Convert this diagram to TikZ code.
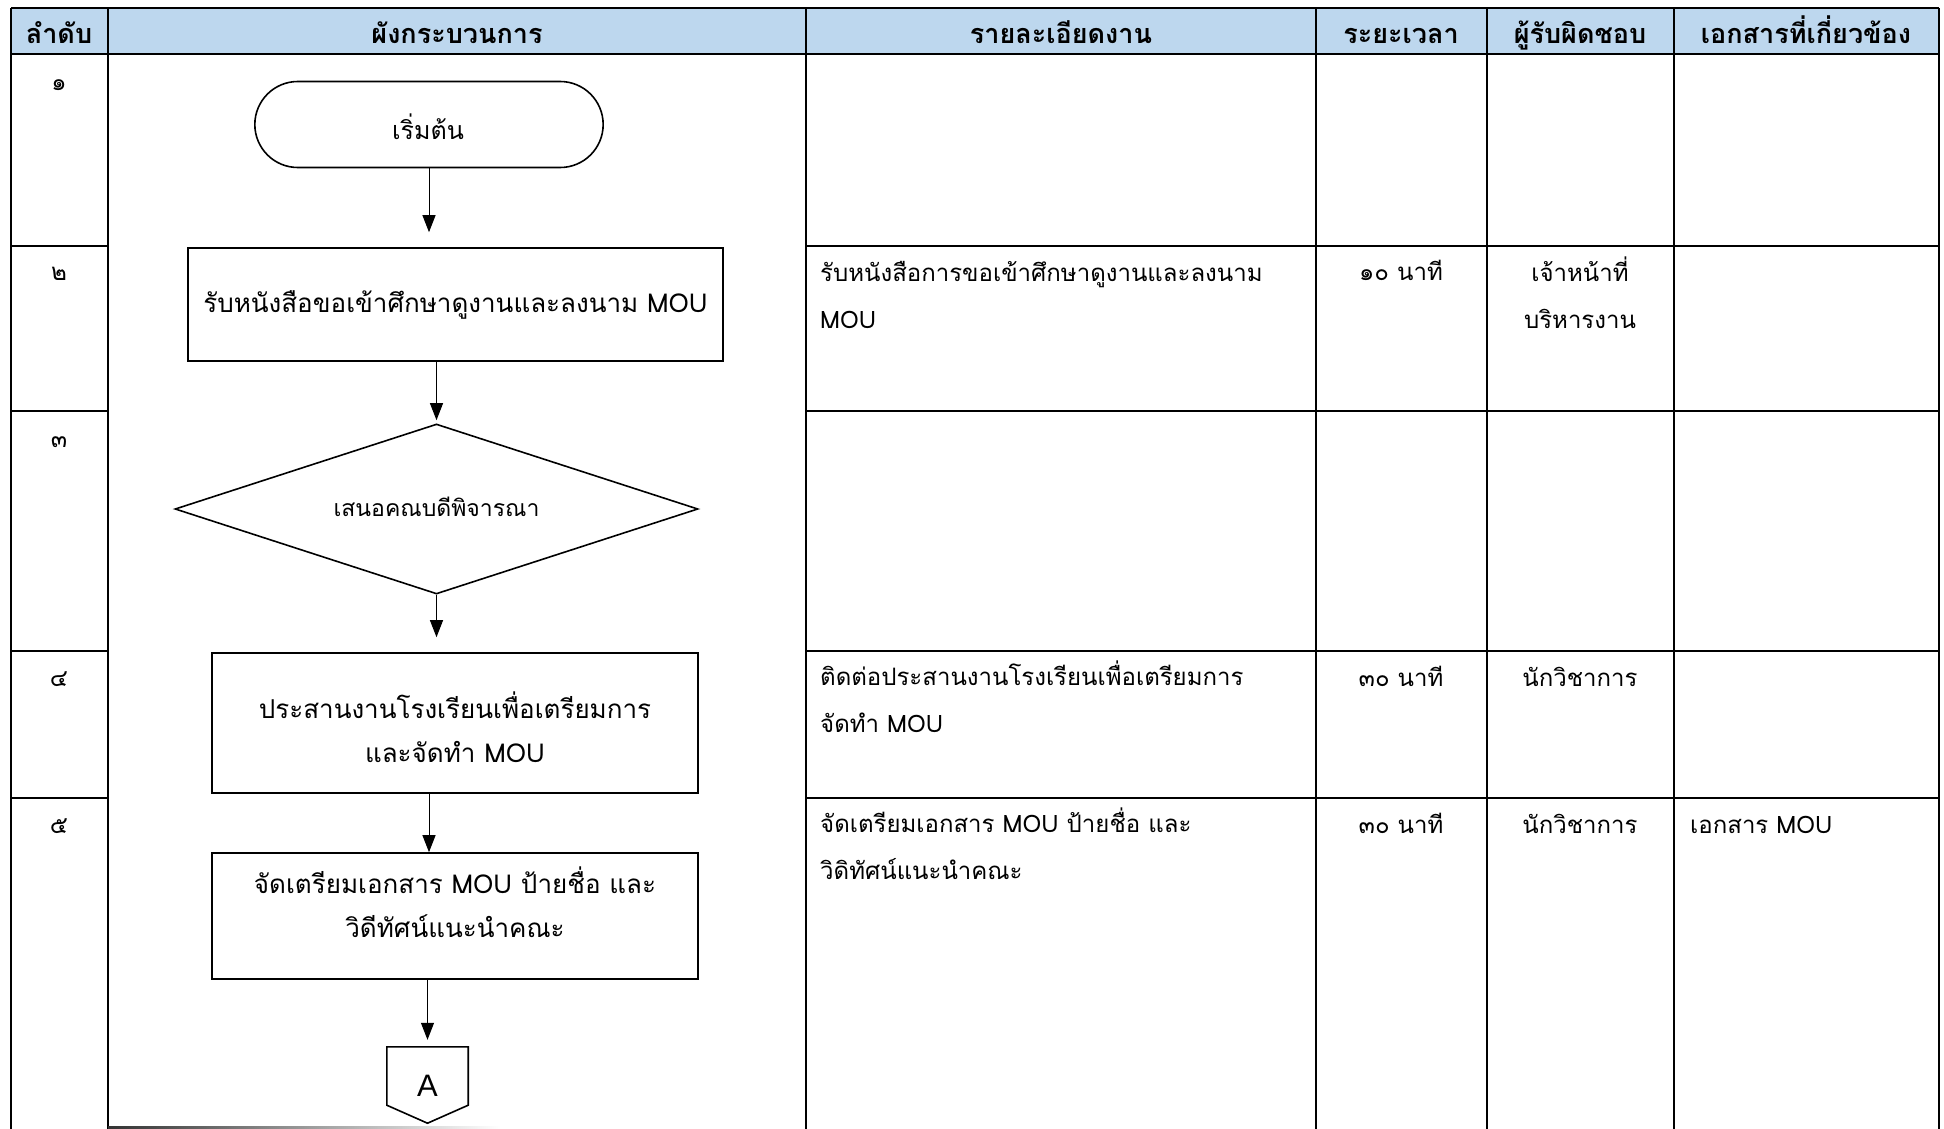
\documentclass[tikz,border=0pt]{standalone}
\usepackage{fontspec}
\setmainfont[Script=Thai]{Loma}
\newfontfamily\latinsans{Liberation Sans}
\usetikzlibrary{shapes.geometric,shapes.misc,arrows.meta,calc}
\definecolor{hdrblue}{RGB}{189,215,238}
\begin{document}
\begin{tikzpicture}[x=1pt,y=-1pt,
  grid/.style={line width=2.6pt,black},
  hdrtext/.style={font=\fontsize{27}{30}\selectfont\bfseries,inner sep=0pt,anchor=base},
  celltext/.style={font=\fontsize{24}{47}\selectfont,inner sep=0pt,align=left},
  numtext/.style={font=\fontsize{24}{28}\selectfont,inner sep=0pt,anchor=base},
  flowtext/.style={font=\fontsize{26}{44}\selectfont,inner sep=0pt,anchor=base},
  term/.style={rounded rectangle,draw,line width=1.6pt,minimum width=355pt,minimum height=86pt},
  proc/.style={rectangle,draw,line width=1.6pt,inner sep=0pt},
  dec/.style={diamond,draw,line width=1.6pt,minimum width=523pt,minimum height=170pt,inner sep=0pt},
  arr/.style={line width=1pt,-{Triangle[length=17pt,width=13pt]}},
]
\useasboundingbox (0,0) rectangle (1944,1129);
\fill[white] (0,0) rectangle (1944,1129);
% header
\fill[hdrblue] (11,8) rectangle (1939,54);
\draw[line width=2pt] (11,8) -- (1939,8);
\draw[grid] (11,54) -- (1939,54);
% vertical lines
\foreach \xx in {11,108,806,1316,1487,1674,1939}{
  \draw[grid] (\xx,8) -- (\xx,1129);
}
% row lines (not across flowchart column)
\foreach \yy in {246,411,651,798}{
  \draw[grid] (11,\yy) -- (108,\yy);
  \draw[grid] (806,\yy) -- (1939,\yy);
}
% faded bottom line of flowchart column
\shade[left color=black!80,right color=white] (108,1126.5) rectangle (500,1129);
% header texts
\node[hdrtext] (h1) at (59,44) {ลำดับ};
\node[hdrtext] (h2) at (457,44) {ผังกระบวนการ};
\node[hdrtext] (h3) at (1061,44) {รายละเอียดงาน};
\node[hdrtext] (h4) at (1401,44) {ระยะเวลา};
\node[hdrtext] (h5) at (1580,44) {ผู้รับผิดชอบ};
\node[hdrtext] (h6) at (1806,44) {เอกสารที่เกี่ยวข้อง};
% row numbers
\node[numtext] (r1) at (59,91) {๑};
\node[numtext] (r2) at (59,280) {๒};
\node[numtext] (r3) at (59,447) {๓};
\node[numtext] (r4) at (59,686) {๔};
\node[numtext] (r5) at (59,833) {๕};
% detail texts (base = last line)
\node[celltext,anchor=base west] (d2) at (820,328) {รับหนังสือการขอเข้าศึกษาดูงานและลงนาม\\MOU};
\node[celltext,anchor=base west] (d4) at (820,732) {ติดต่อประสานงานโรงเรียนเพื่อเตรียมการ\\จัดทำ MOU};
\node[celltext,anchor=base west] (d5) at (820,879) {จัดเตรียมเอกสาร MOU ป้ายชื่อ และ\\วิดิทัศน์แนะนำคณะ};
\node[numtext] (t2) at (1401,280) {๑๐ นาที};
\node[numtext] (t4) at (1401,686) {๓๐ นาที};
\node[numtext] (t5) at (1401,833) {๓๐ นาที};
\node[celltext,anchor=base,align=center] (p2) at (1580,328) {เจ้าหน้าที่\\บริหารงาน};
\node[numtext] (p4) at (1580,686) {นักวิชาการ};
\node[numtext] (p5) at (1580,833) {นักวิชาการ};
\node[numtext,anchor=base west] (e5) at (1690,833) {เอกสาร MOU};
% flowchart shapes
\node[term] (n1) at (429,124.5) {};
\node[proc,minimum width=535pt,minimum height=113pt] (n2) at (455.5,304.5) {};
\node[dec] (n3) at (436.5,509) {};
\node[proc,minimum width=486pt,minimum height=140pt] (n4) at (455,723) {};
\node[proc,minimum width=486pt,minimum height=126pt] (n5) at (455,916) {};
\node[inner sep=0pt,minimum width=81pt,minimum height=76pt] (n6) at (427.5,1085) {};
\draw[line width=1.6pt,line join=miter] (n6.north west) -- (n6.north east) -- ($(n6.south east)+(0,-18)$) -- (n6.south) -- ($(n6.south west)+(0,-18)$) -- cycle;
% flowchart texts (base = last line)
\node[flowtext,font=\fontsize{25}{30}\selectfont] (l1) at (428,140) {เริ่มต้น};
\node[flowtext] (l2) at (455.5,312) {รับหนังสือขอเข้าศึกษาดูงานและลงนาม MOU};
\node[flowtext,font=\fontsize{23}{30}\selectfont] (l3) at (436.5,516) {เสนอคณบดีพิจารณา};
\node[flowtext,align=center] (l4) at (455,762) {ประสานงานโรงเรียนเพื่อเตรียมการ\\และจัดทำ MOU};
\node[flowtext,align=center] (l5) at (455,937) {จัดเตรียมเอกสาร MOU ป้ายชื่อ และ\\วิดีทัศน์แนะนำคณะ};
\node[inner sep=0pt,anchor=base,font=\fontsize{31}{34}\selectfont\latinsans] (l6) at (427.5,1096) {A};
% connectors
\draw[arr,shorten >=15pt] (n1.south) -- (n1.south |- n2.north);
\draw[arr,shorten >=3pt] (n3.north |- n2.south) -- (n3.north);
\draw[arr,shorten >=15pt] (n3.south) -- (n3.south |- n4.north);
\draw[arr] ([xshift=-26pt]n4.south) -- ([xshift=-26pt]n5.north);
\draw[arr,shorten >=7pt] (n6.north |- n5.south) -- (n6.north);
\end{tikzpicture}
\end{document}
